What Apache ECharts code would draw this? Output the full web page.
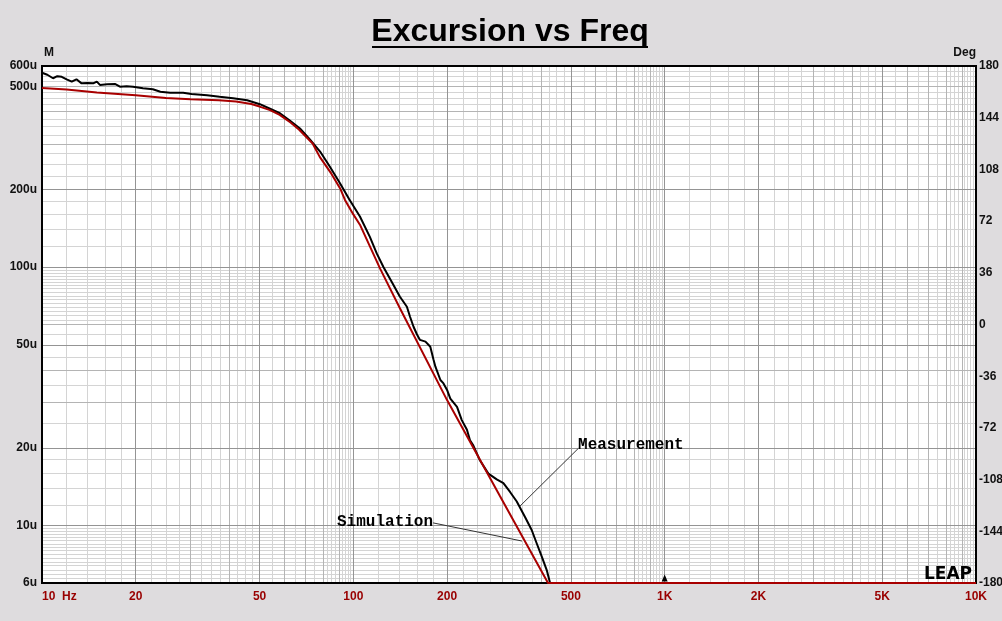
<!DOCTYPE html>
<html><head><meta charset="utf-8">
<script src="https://cdn.jsdelivr.net/npm/echarts@6/dist/echarts.min.js"></script>
<style>html,body{margin:0;padding:0;background:#dedcde}#c{width:1002px;height:621px}</style>
</head><body><div id="c"></div>
<script>
// ---- data (frequency in Hz, excursion in u = micrometres) ----
const freqTicks = [10, 20, 50, 100, 200, 500, 1000, 2000, 5000, 10000];
const excTicks = [6, 10, 20, 50, 100, 200, 500, 600];
const phaseMin = -180, phaseMax = 180, phaseStep = 36;

const measFreq = [10, 10.4, 10.85, 11.2, 11.57, 12.0, 12.46, 12.9, 13.4, 14.0, 14.6, 15.0, 15.35, 16.2, 17.2, 17.8, 18.7, 19.6,
  21.1, 22.7, 24.0, 25.8, 28.4, 30.2, 33.9, 37.2, 41.1, 45.6, 50.1, 54.0, 58.1, 62.5, 67.4, 72.5, 78.2, 84, 90.6, 97,
  105, 113, 118.9, 124.8, 134, 141, 148.6, 152.1, 156.1, 160, 163.7, 170.5, 176.7, 180.8, 183.5, 190.4, 194.8, 200,
  204.9, 215.3, 223, 231.7, 237, 243, 255, 271.5, 288.8, 303.4, 318.7, 334.9, 356, 374, 388, 403, 418, 428.5];
const measExc = [565, 555, 538, 548, 545, 533, 522, 533, 514, 516, 514, 522, 507, 510, 511, 499, 501, 499,
  492, 488, 477, 473, 473, 468, 462, 456, 450, 442, 427, 410, 394, 369, 344, 312, 280, 245, 211, 183,
  157, 131, 113, 100.4, 86, 77, 70.3, 64.3, 58.8, 55, 52.3, 51.5, 49.2, 44, 41.2, 36.6, 35.5, 33.5,
  31, 28.8, 25.6, 23.5, 21.4, 20.4, 17.9, 15.9, 15.1, 14.6, 13.5, 12.4, 10.8, 9.62, 8.55, 7.59, 6.73, 6.0];

const simFreq = [10, 12, 15, 20, 25, 30, 37, 42, 47, 50, 54, 58, 63, 67, 74, 78, 85, 91, 94, 100, 105, 122, 141, 200, 296, 422, 500, 1000, 10000];
const simExc = [493, 487, 474, 462, 451, 446, 442, 437, 428, 418, 405, 388, 362, 340, 301, 267, 230, 200, 182, 160, 146, 98.5, 69.5, 30.6, 13.0, 6, 6, 6, 6];

// grid line positions (multipliers per decade, and excursion values)
const decades = [10, 100, 1000];
const xMinorMult = [1.2, 1.4, 1.6, 1.8, 2.25, 2.5, 2.75, 3.25, 3.5, 3.75, 4.25, 4.5, 4.75, 5.5, 6.5, 7.5, 8.25, 8.5, 8.75, 9.2, 9.4, 9.6, 9.8];
const xMidMult = [3, 4, 6, 7, 8, 9];
const xMajorMult = [2, 5, 10];
const yMinor = [575, 550, 525, 475, 450, 425, 375, 350, 325, 275, 250, 225, 180, 160, 140, 120,
  97.5, 95, 92.5, 90, 87.5, 85, 82.5, 80, 77.5, 75, 72.5, 70, 67.5, 65, 62.5, 55, 45, 35, 25,
  18, 16, 14, 12, 9.75, 9.5, 9.25, 9, 8.75, 8.5, 8.25, 8, 7.75, 7.5, 7.25, 7, 6.75, 6.5, 6.25];
const yMid = [500, 400, 300, 60, 40, 30];
const yMajor = [200, 100, 50, 20, 10];

// annotations (data coordinates)
const measLabelAt = [527, 20.5];
const measLeader = [[528, 19.9], [343, 11.9]];
const simLabelAt = [180.3, 10.33];
const simLeader = [[180.3, 10.25], [348, 8.72]];

// ---- build ----
const zip = (a, b) => a.map((v, i) => [v, b[i]]);
const xs = m => decades.flatMap(d => m.map(k => +(k * d).toFixed(4))).filter(v => v > 10 && v < 10000);

function gridSeries(xVals, yVals, color) {
  return {
    type: 'line', data: [], z: 1, silent: true, animation: false,
    markLine: {
      z: 1, silent: true, symbol: ['none', 'none'], animation: false,
      label: {show: false}, emphasis: {disabled: true},
      lineStyle: {color: color, width: 1, type: 'solid'},
      data: xVals.map(v => ({xAxis: v})).concat(yVals.map(v => ({yAxis: v})))
    }
  };
}

const chart = echarts.init(document.getElementById('c'), null, {renderer: 'canvas'});
const lblFont = {fontFamily: 'Liberation Sans, Arial, sans-serif', fontWeight: 'bold', fontSize: 12};
const monoFont = {fontFamily: 'Liberation Mono, DejaVu Sans Mono, monospace', fontSize: 16, fontWeight: 'bold', color: '#000'};
const frameLine = {show: true, onZero: false, lineStyle: {color: '#000', width: 2}};

chart.setOption({
  backgroundColor: '#dedcde',
  animation: false,
  grid: {left: 42, right: 26, top: 66, bottom: 38, outerBoundsMode: 'none', containLabel: false,
    show: true, backgroundColor: '#ffffff', borderColor: '#000', borderWidth: 2},
  graphic: [
    {type: 'text', x: 510, y: 32, z: 10, style: {text: 'Excursion vs Freq', font: 'bold 32px "Liberation Sans", Arial, sans-serif', fill: '#000', textAlign: 'center', textVerticalAlign: 'middle'}},
    {type: 'rect', z: 10, shape: {x: 372, y: 46, width: 276, height: 2}, style: {fill: '#000'}},
    {type: 'text', x: 972, y: 575, z: 10, style: {text: 'LEAP', font: 'bold 17px "DejaVu Sans", sans-serif', fill: '#000', textAlign: 'right', textVerticalAlign: 'middle'}}
  ],
  xAxis: [
    {
      type: 'log', logBase: 10, min: 10, max: 10000, position: 'bottom', z: 10,
      axisLine: frameLine,
      axisTick: {show: false}, splitLine: {show: false}, minorSplitLine: {show: false},
      axisLabel: Object.assign({
        customValues: freqTicks, color: '#990000', margin: 8, alignMinLabel: 'left',
        formatter: v => v === 10 ? '10  Hz' : (v >= 1000 ? (v / 1000) + 'K' : String(v))
      }, lblFont)
    },
    {
      type: 'log', logBase: 10, min: 10, max: 10000, position: 'top', z: 10,
      axisLine: frameLine, axisTick: {show: false}, axisLabel: {show: false}, splitLine: {show: false}
    }
  ],
  yAxis: [
    {
      type: 'log', logBase: 10, min: 6, max: 600, position: 'left', z: 10,
      name: 'M', nameLocation: 'end', nameGap: 7,
      nameTextStyle: Object.assign({color: '#111', align: 'left', padding: [0, 0, 0, 2]}, lblFont),
      axisLine: frameLine,
      axisTick: {show: false}, splitLine: {show: false},
      axisLabel: Object.assign({customValues: excTicks, color: '#111', margin: 5, formatter: v => v + 'u'}, lblFont)
    },
    {
      type: 'value', min: phaseMin, max: phaseMax, interval: phaseStep, position: 'right', z: 10,
      name: 'Deg', nameLocation: 'end', nameGap: 7,
      nameTextStyle: Object.assign({color: '#111', align: 'right'}, lblFont),
      axisLine: frameLine,
      axisTick: {show: false}, splitLine: {show: false},
      axisLabel: Object.assign({color: '#111', margin: 3}, lblFont)
    }
  ],
  series: [
    gridSeries(xs(xMinorMult), yMinor, '#d4d4d4'),
    gridSeries(xs(xMidMult), yMid, '#b4b4b4'),
    gridSeries(xs(xMajorMult), yMajor, '#949494'),
    {
      name: 'Measurement', type: 'line', data: zip(measFreq, measExc), z: 11, clip: false,
      showSymbol: false, symbol: 'none', lineStyle: {color: '#000', width: 2},
      markPoint: {
        symbolSize: 0, silent: true, animation: false,
        label: Object.assign({show: true, position: 'right', distance: 0, formatter: 'Measurement'}, monoFont),
        data: [{coord: measLabelAt, value: 0}]
      },
      markLine: {
        silent: true, symbol: ['none', 'none'], animation: false, label: {show: false},
        lineStyle: {color: '#333', width: 1, type: 'solid'},
        data: [[{coord: measLeader[0]}, {coord: measLeader[1]}]]
      }
    },
    {
      name: 'Simulation', type: 'line', data: zip(simFreq, simExc), z: 12, clip: false,
      showSymbol: false, symbol: 'none', lineStyle: {color: '#a80000', width: 2},
      markPoint: {
        silent: true, animation: false,
        data: [
          {coord: simLabelAt, value: 0, symbolSize: 0,
            label: Object.assign({show: true, position: 'left', distance: 0, formatter: 'Simulation'}, monoFont)},
          {coord: [1000, 6], value: 0, symbol: 'triangle', symbolSize: [6, 7], symbolOffset: [0, -5],
            itemStyle: {color: '#000'}, label: {show: false}}
        ]
      },
      markLine: {
        silent: true, symbol: ['none', 'none'], animation: false, label: {show: false},
        lineStyle: {color: '#333', width: 1, type: 'solid'},
        data: [[{coord: simLeader[0]}, {coord: simLeader[1]}]]
      }
    }
  ]
});
</script>
</body></html>
